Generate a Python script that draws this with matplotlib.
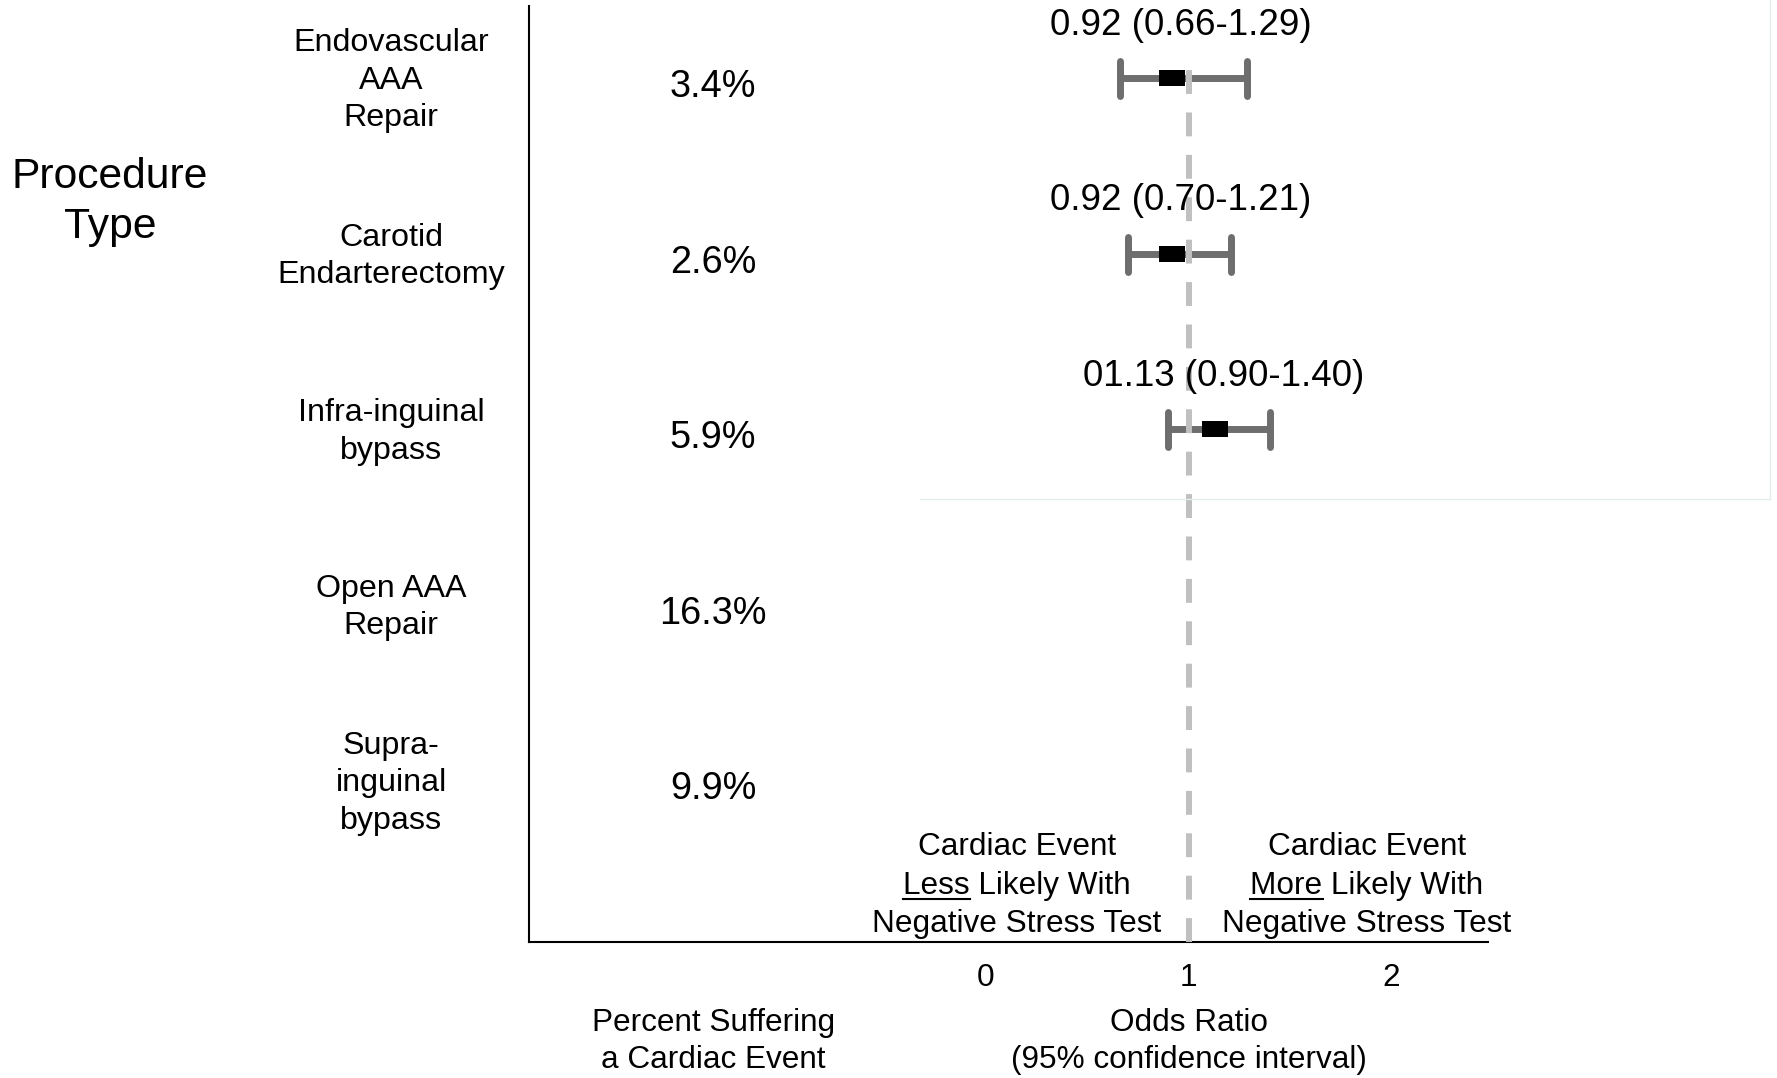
import matplotlib
matplotlib.use("Agg")
import matplotlib.pyplot as plt
from matplotlib.lines import Line2D
from matplotlib.markers import MarkerStyle
from matplotlib.path import Path
import matplotlib.transforms as mtransforms

plt.rcParams['font.family'] = ['Liberation Sans', 'DejaVu Sans']

# data
procedures = ["Endovascular\nAAA\nRepair", "Carotid\nEndarterectomy",
              "Infra-inguinal\nbypass", "Open AAA\nRepair",
              "Supra-\ninguinal\nbypass"]
percent_event = ["3.4%", "2.6%", "5.9%", "16.3%", "9.9%"]
odds_ratio = [0.92, 0.92, 1.13]
ci_low = [0.66, 0.70, 0.90]
ci_high = [1.29, 1.21, 1.40]
or_labels = ["0.92 (0.66-1.29)", "0.92 (0.70-1.21)", "01.13 (0.90-1.40)"]
or_ticks = [0, 1, 2]

rows = list(range(len(procedures)))
or_rows = rows[:len(odds_ratio)]

fig = plt.figure(figsize=(17.77, 10.78), dpi=100)
ax = fig.add_axes([0.2977, 0.1262, 0.5397, 0.8683])
ax.set_xlim(-2.257, 2.479)
ax.set_ylim(4.92, -0.41)

# axes styling: only left and bottom spines
for side in ["top", "right"]:
    ax.spines[side].set_visible(False)
for side in ["left", "bottom"]:
    ax.spines[side].set_linewidth(1.5)
    ax.spines[side].set_color("black")
ax.set_yticks([])
ax.set_xticks(or_ticks)
ax.set_xticklabels([str(t) for t in or_ticks], fontsize=22.7)
ax.tick_params(axis="x", length=0, pad=15)

# reference line at OR = 1
ax.axvline(1, ymin=0, ymax=0.941, color="#c0c0c0", lw=4.3,
           linestyle=(0, (4, 3.1)), zorder=3)

# error bars
eb = ax.errorbar(odds_ratio, or_rows,
                 xerr=[[o - l for o, l in zip(odds_ratio, ci_low)],
                       [h - o for o, h in zip(odds_ratio, ci_high)]],
                 fmt="none", ecolor="#6e6e6e", elinewidth=5,
                 capsize=12.6, capthick=5, zorder=2)
for cap in eb[1]:
    cap.set_marker(MarkerStyle("|", capstyle="round"))

rect = Path([(-27, -17), (27, -17), (27, 17), (-27, 17), (-27, -17)])
ax.plot(odds_ratio, or_rows, linestyle="none", marker=rect, markersize=19.4,
        color="black", markeredgewidth=0, zorder=4)

for x, y, lab in zip(odds_ratio, or_rows, or_labels):
    ax.annotate(lab, (x, y), xytext=(6, 38), textcoords="offset points",
                ha="center", va="center", fontsize=26.5)

# percentages and procedure names
for y, pct, name in zip(rows, percent_event, procedures):
    ax.annotate(pct, (-1.348, y), xytext=(0, -6.5), textcoords="offset points",
                ha="center", va="center", fontsize=27.3)
    ax.annotate(name, (-2.938, y), xytext=(0, -2), textcoords="offset points",
                ha="center", va="center", fontsize=23.2,
                linespacing=1.33, annotation_clip=False)

fig.text(0.062, 0.8125, "Procedure\nType", ha="center", va="center",
         fontsize=30.7, linespacing=1.32)

# column titles below the axis
trans = mtransforms.blended_transform_factory(ax.transData, fig.transFigure)
ax.text(-1.348, 0.034, "Percent Suffering\na Cardiac Event", transform=trans,
        ha="center", va="center", fontsize=22.7, linespacing=1.32)
ax.text(1.0, 0.034, "Odds Ratio\n(95% confidence interval)", transform=trans,
        ha="center", va="center", fontsize=22.7, linespacing=1.32)

# direction annotations, one text per line so the keyword can be underlined
blocks = [(0.153, "Less"), (1.881, "More")]
mid_y = 4.645
line_gap = 27.5
mid_texts = []
for x, word in blocks:
    ax.annotate("Cardiac Event", (x, mid_y), xytext=(0, line_gap),
                textcoords="offset points", ha="center", va="baseline",
                fontsize=22.7)
    t = ax.annotate(word + " Likely With", (x, mid_y), xytext=(0, 0),
                    textcoords="offset points", ha="center", va="baseline",
                    fontsize=22.7)
    ax.annotate("Negative Stress Test", (x, mid_y), xytext=(0, -line_gap),
                textcoords="offset points", ha="center", va="baseline",
                fontsize=22.7)
    mid_texts.append((t, word))

fig.canvas.draw()
renderer = fig.canvas.get_renderer()
inv = fig.transFigure.inverted()
for t, word in mid_texts:
    bb = t.get_window_extent(renderer)
    tmp = fig.text(0, 0, word, fontsize=22.7)
    w = tmp.get_window_extent(renderer).width
    tmp.remove()
    base_y = ax.transData.transform((0, mid_y))[1]
    (x0, y0) = inv.transform((bb.x0, base_y - 5))
    (x1, y1) = inv.transform((bb.x0 + w, base_y - 5))
    fig.add_artist(Line2D([x0, x1], [y0, y1], color="black", lw=1.5))

# faint frame left over in the reference
fig.add_artist(Line2D([0.518, 0.996], [0.537, 0.537], color="#e6eded", lw=1))
fig.add_artist(Line2D([0.996, 0.996], [0.537, 1.0], color="#e6eded", lw=1))

fig.savefig("out.png", dpi=100)
